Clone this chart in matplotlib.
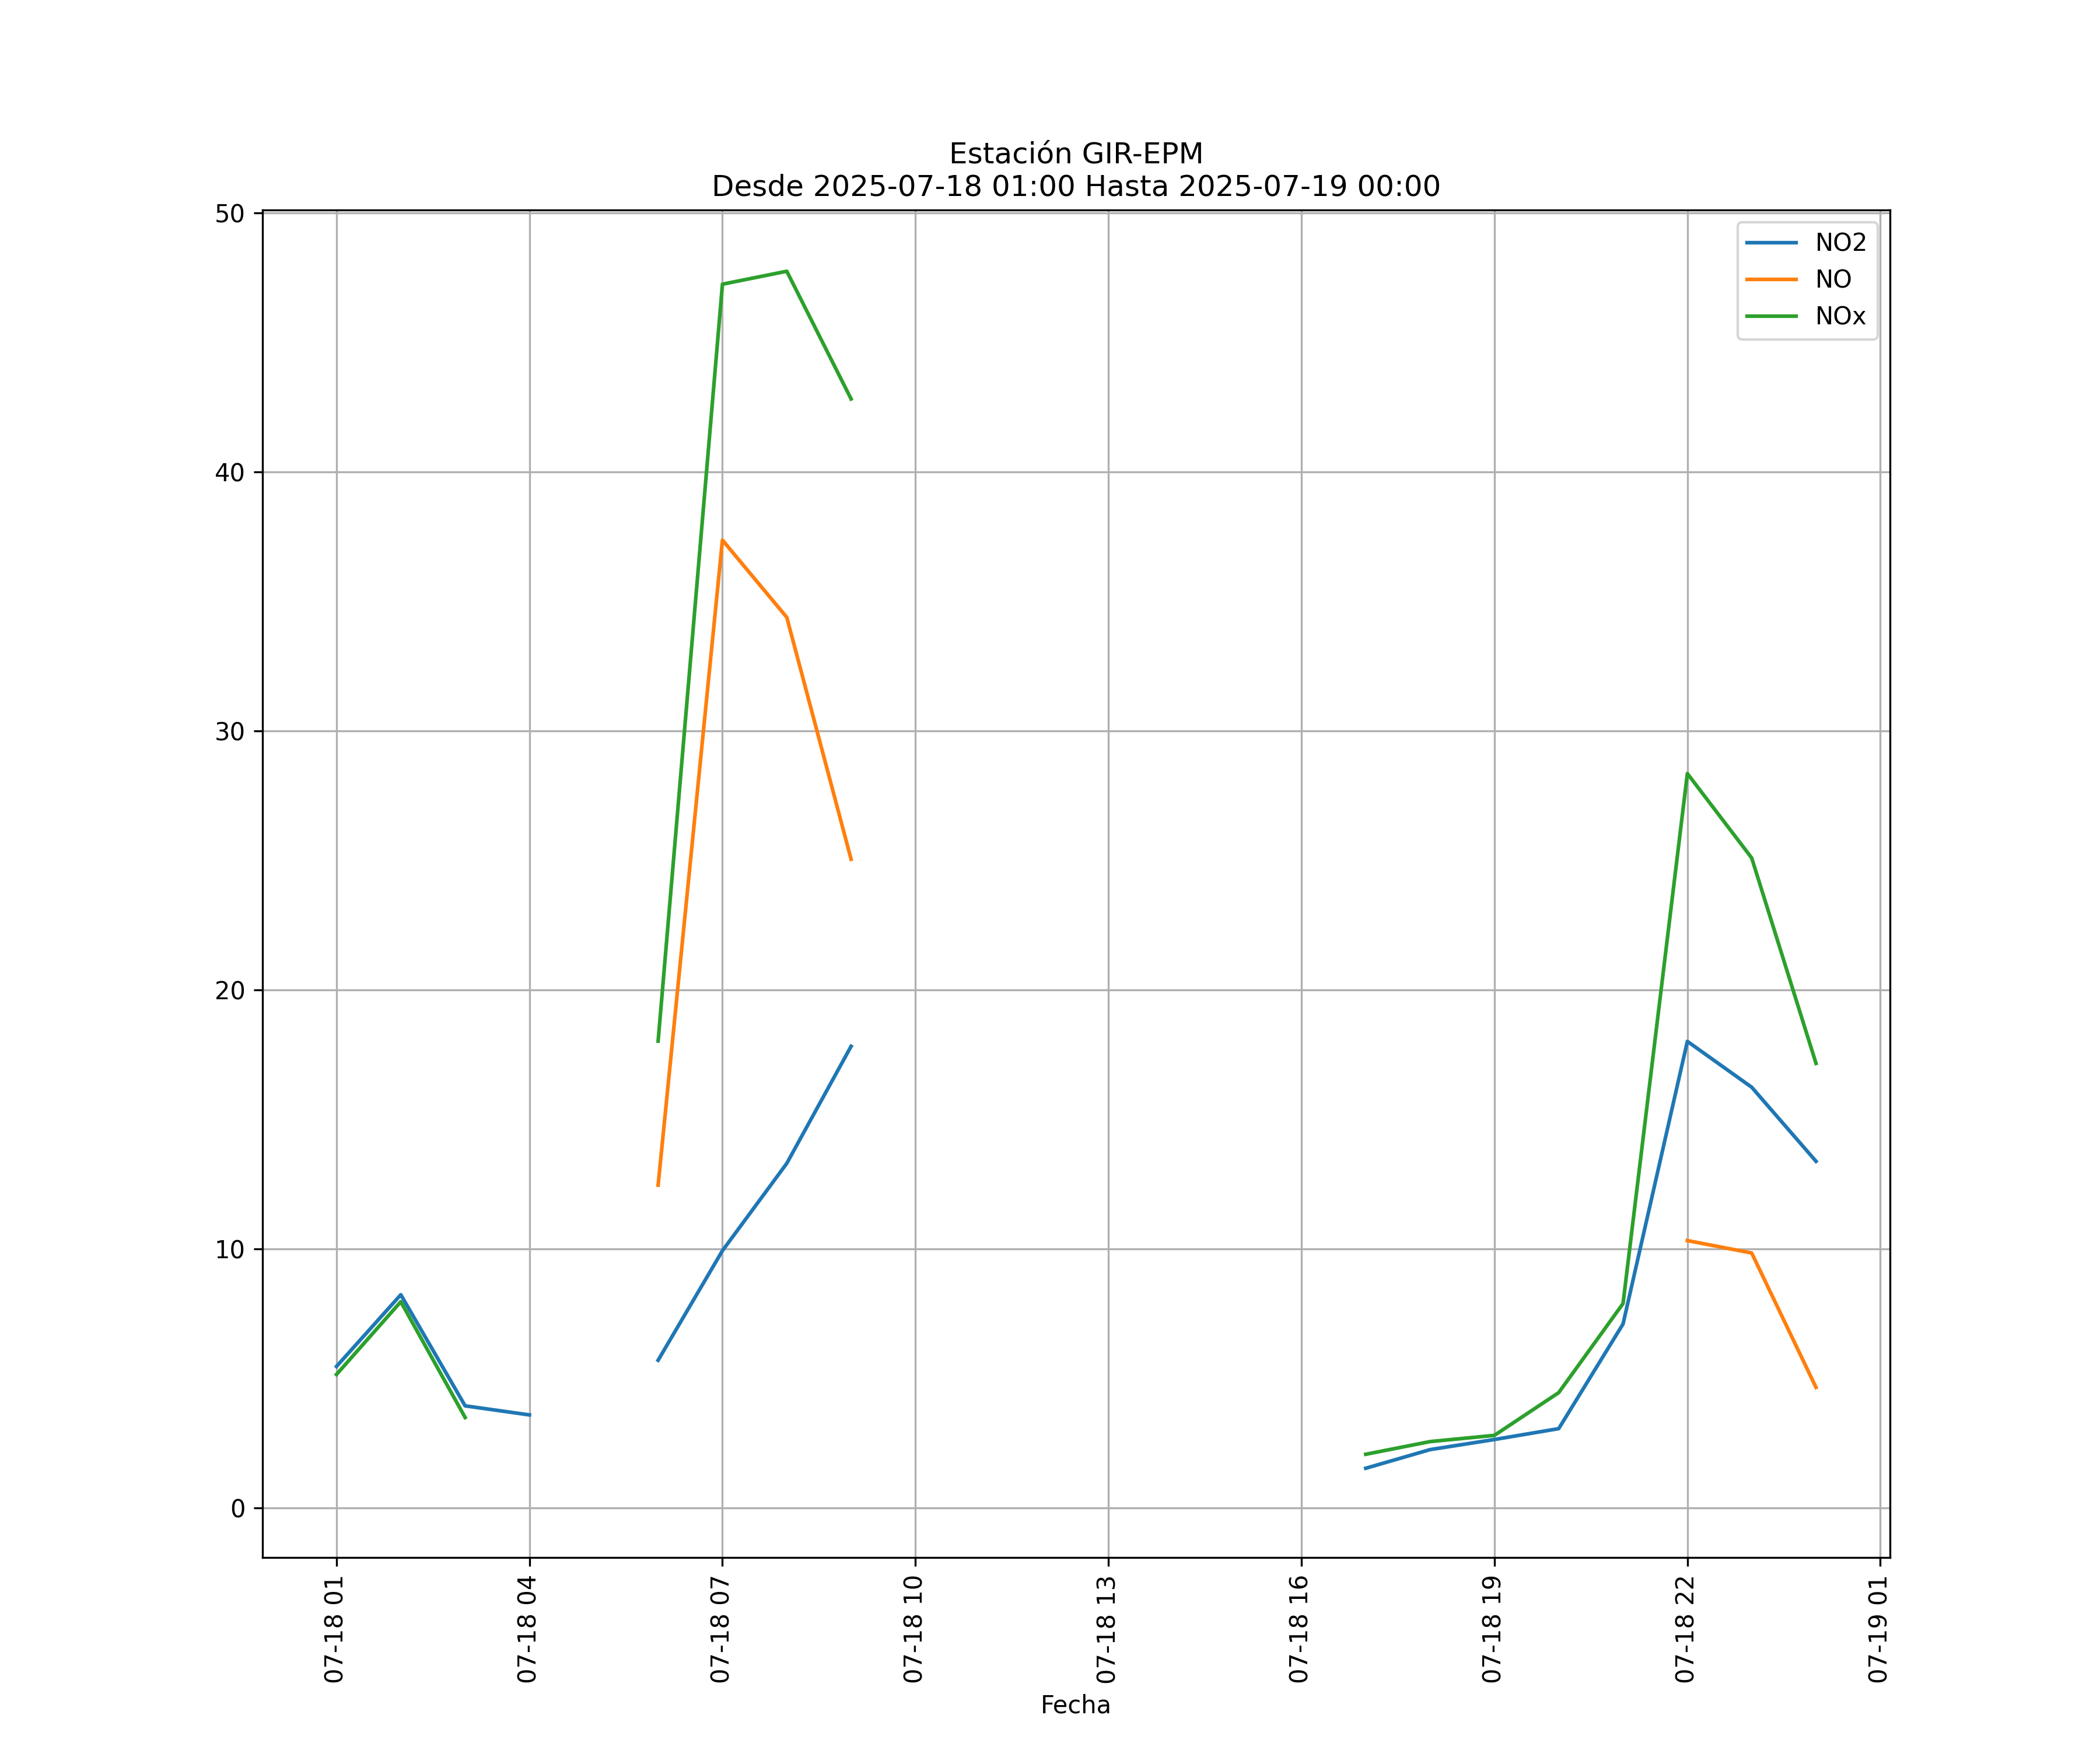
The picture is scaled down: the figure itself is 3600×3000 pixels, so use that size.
import numpy as np
import pandas as pd
import matplotlib
matplotlib.use("Agg")
import matplotlib.pyplot as plt
import matplotlib.dates as mdates

# Hourly timestamps 2025-07-18 01:00 .. 2025-07-19 00:00
fechas = pd.date_range("2025-07-18 01:00", "2025-07-19 00:00", freq="h")

nan = np.nan
# Values per hour (01..00), NaN = no data
no2 = [5.46, 8.23, 3.94, 3.59, nan, 5.70, 9.93, 13.3, 17.82,
       nan, nan, nan, nan, nan, nan, nan,
       1.53, 2.25, 2.64, 3.06, 7.10, 18.01, 16.24, 13.38]
no = [nan, nan, nan, nan, nan, 12.46, 37.36, 34.38, 25.04,
      nan, nan, nan, nan, nan, nan, nan,
      0.45, nan, nan, nan, nan, 10.32, 9.84, 4.65]
nox = [5.15, 7.96, 3.49, nan, nan, 18.02, 47.24, 47.74, 42.81,
       nan, nan, nan, nan, nan, nan, nan,
       2.07, 2.56, 2.80, 4.45, 7.89, 28.35, 25.09, 17.16]

fig, ax = plt.subplots(figsize=(12, 10))

ax.plot(fechas, no2, label="NO2")
ax.plot(fechas, no, label="NO")
ax.plot(fechas, nox, label="NOx")

ax.xaxis.set_major_locator(mdates.HourLocator(byhour=range(1, 24, 3)))
ax.xaxis.set_major_formatter(mdates.DateFormatter("%m-%d %H"))
plt.xticks(rotation=90)

ax.set_title("Estación GIR-EPM\nDesde 2025-07-18 01:00 Hasta 2025-07-19 00:00")
ax.set_xlabel("Fecha")
ax.legend(loc="upper right")
ax.grid(True)

plt.savefig("out.png", dpi=300)
